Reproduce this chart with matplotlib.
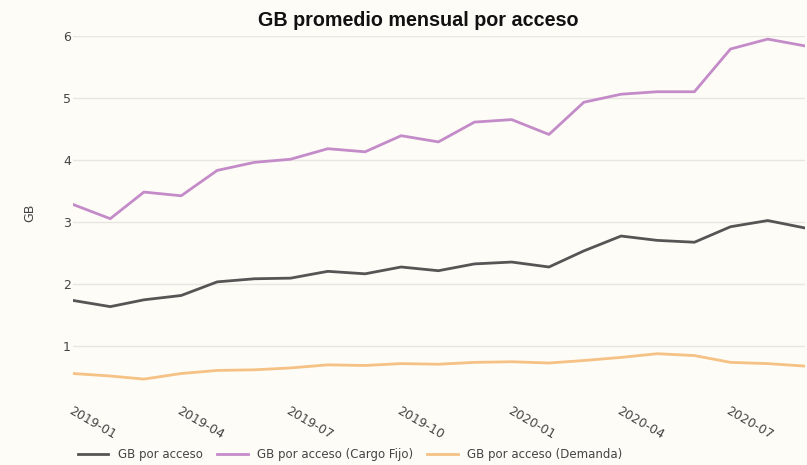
import numpy as np
import pandas as pd
import matplotlib
matplotlib.use("Agg")
import matplotlib.pyplot as plt
import matplotlib.dates as mdates

# datos mensuales 2019-01 .. 2020-09
meses = pd.date_range("2019-01-01", "2020-09-01", freq="MS")

gb_total = [1.73, 1.63, 1.74, 1.81, 2.03, 2.08, 2.09, 2.20, 2.16, 2.27, 2.21,
            2.32, 2.35, 2.27, 2.53, 2.77, 2.70, 2.67, 2.92, 3.02, 2.90]
gb_fijo = [3.28, 3.05, 3.48, 3.42, 3.83, 3.96, 4.01, 4.18, 4.13, 4.39, 4.29,
           4.61, 4.65, 4.41, 4.93, 5.06, 5.10, 5.10, 5.79, 5.95, 5.84]
gb_demanda = [0.55, 0.51, 0.46, 0.55, 0.60, 0.61, 0.64, 0.69, 0.68, 0.71, 0.70,
              0.73, 0.74, 0.72, 0.76, 0.81, 0.87, 0.84, 0.73, 0.71, 0.67]

series = ["GB por acceso", "GB por acceso (Cargo Fijo)", "GB por acceso (Demanda)"]
colores = ["#555555", "#c48bc9", "#f5c185"]
y_ticks = [1, 2, 3, 4, 5, 6]

fondo = "#fefcf7"
W, H = 807, 465
fig = plt.figure(figsize=(W / 100, H / 100), dpi=100, facecolor=fondo)
ax = fig.add_axes([73 / W, 1 - 389 / H, (805 - 73) / W, (389 - 36) / H])
ax.set_facecolor(fondo)

for vals, nombre, c in zip([gb_total, gb_fijo, gb_demanda], series, colores):
    ax.plot(meses, vals, color=c, lw=2, label=nombre)

ax.set_ylim(0.3, 6.0)
ax.set_xlim(meses[0], meses[-1])
ax.set_yticks(y_ticks)
ax.grid(axis="y", color="#e8e6e1", lw=1)
ax.set_axisbelow(True)
for s in ax.spines.values():
    s.set_visible(False)

ax.xaxis.set_major_locator(mdates.MonthLocator(bymonth=[1, 4, 7, 10]))
ax.xaxis.set_major_formatter(mdates.DateFormatter("%Y-%m"))
ax.tick_params(axis="both", length=0, colors="#444444", labelsize=9)
ax.tick_params(axis="x", pad=11)
ax.tick_params(axis="y", pad=1.5)
for lbl in ax.get_xticklabels():
    lbl.set_rotation(-30)
    lbl.set_ha("left")
    lbl.set_va("top")
    lbl.set_rotation_mode("anchor")

ax.set_ylabel("GB", color="#444444", fontsize=9)
ax.yaxis.set_label_coords(-0.05, 0.5)

fig.text(418 / W, 1 - 21 / H, "GB promedio mensual por acceso", ha="center", va="center",
         fontsize=14.2, fontweight="bold", family="Liberation Sans", color="#111111")

ax.legend(loc="upper left", bbox_to_anchor=(0, -0.155), ncol=3, frameon=False,
          fontsize=8.5, handlelength=2.6, columnspacing=1.2, borderaxespad=0,
          labelcolor="#444444")

fig.savefig("out.png", dpi=100, facecolor=fondo)
